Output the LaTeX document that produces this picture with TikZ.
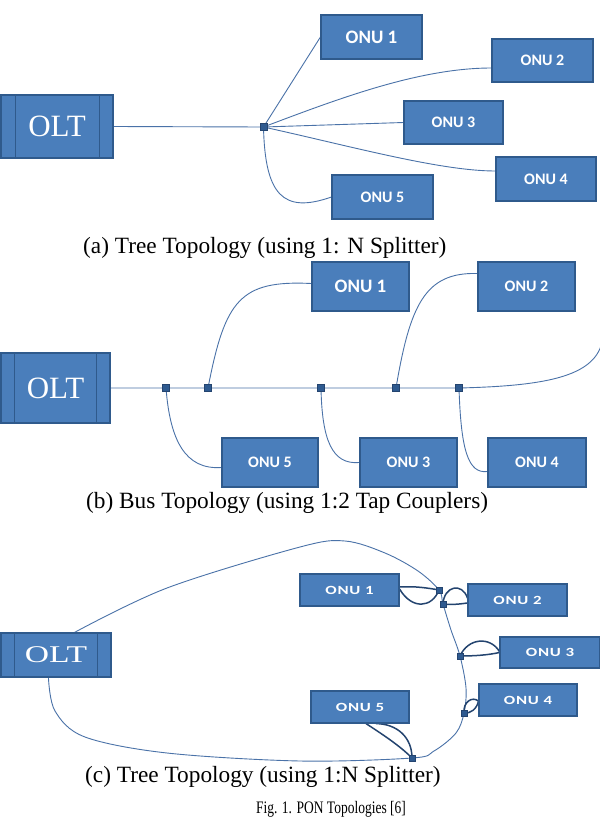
\documentclass[tikz,border=0pt]{standalone}
\usepackage{fontspec}
\setmainfont{Liberation Serif}
\newfontfamily\onufont{Carlito}
\newfontfamily\ringfont[FakeStretch=1.35,LetterSpace=6]{Carlito}
\newfontfamily\wideserif[FakeStretch=1.4]{Liberation Serif}
\usetikzlibrary{calc,backgrounds}
\definecolor{boxfill}{HTML}{4A7EBB}
\definecolor{boxline}{HTML}{2F5A8C}
\definecolor{wire}{HTML}{4A72A8}
\definecolor{darkwire}{HTML}{24446F}
\definecolor{splfill}{HTML}{2E5A90}
\begin{document}
\begin{tikzpicture}[x=1pt,y=-1pt,
  onu/.style={draw=boxline, line width=1.1pt, fill=boxfill, text=white, inner sep=0pt,
    font=\onufont\bfseries\fontsize{16}{16}\selectfont},
  bigonu/.style={onu, font=\onufont\bfseries\fontsize{19}{19}\selectfont},
  ronu/.style={onu, font=\ringfont\bfseries\fontsize{12.5}{12.5}\selectfont},
  olt/.style={draw=boxline, line width=1.1pt, fill=boxfill, text=white, inner sep=0pt,
    font=\fontsize{31}{31}\selectfont},
  rolt/.style={olt, font=\wideserif\fontsize{24}{24}\selectfont},
  oltbar/.style={draw=boxline, line width=1.1pt},
  spl/.style={draw=darkwire, fill=splfill, line width=0.6pt, minimum size=7pt, inner sep=0pt},
  rspl/.style={spl, minimum size=6pt},
  wire/.style={draw=wire, line width=0.9pt},
  lens/.style={draw=darkwire, line width=1.5pt},
  capt/.style={anchor=base west, inner sep=0pt, font=\fontsize{23.3}{24}\selectfont}
]
\useasboundingbox (0,0) rectangle (600,817);

% ---------------- (a) tree ----------------
\node[olt, minimum width=112pt, minimum height=63pt] (oa) at (57,126.5) {OLT};
\draw[oltbar] ($(oa.north west)+(15,0)$) -- ($(oa.south west)+(15,0)$);
\draw[oltbar] ($(oa.north east)+(-14,0)$) -- ($(oa.south east)+(-14,0)$);
\node[spl] (sa) at (263.5,127) {};
\node[bigonu, minimum width=101pt, minimum height=44pt] (t1) at (371.5,37) {ONU 1};
\node[onu, minimum width=101pt, minimum height=43pt] (t2) at (542.5,60.5) {ONU 2};
\node[onu, minimum width=99pt, minimum height=43pt] (t3) at (453.5,122.5) {ONU 3};
\node[onu, minimum width=100pt, minimum height=44pt] (t4) at (546,179) {ONU 4};
\node[onu, minimum width=101pt, minimum height=44pt] (t5) at (382.5,197) {ONU 5};
\begin{pgfonlayer}{background}
\fill[white] (0,0) rectangle (600,817);
\draw[wire] (oa.east) -- (sa.center);
\draw[wire] (sa.center) -- (t1.west);
\draw[wire] (sa.center) .. controls (340,98) and (420,68) .. ($(t2.west)+(0,7.5)$);
\draw[wire] (sa.center) -- (t3.west);
\draw[wire] (sa.center) .. controls (350,146) and (440,171) .. ($(t4.west)+(0,-8)$);
\draw[wire] (sa.center) .. controls (265,195) and (283,214) .. (t5.west);
\end{pgfonlayer}
\node[capt] (capa) at (83,253) {(a) Tree Topology (using 1: N Splitter)};

% ---------------- (b) bus ----------------
\node[olt, minimum width=109pt, minimum height=70pt] (ob) at (55.5,388) {OLT};
\draw[oltbar] ($(ob.north west)+(14,0)$) -- ($(ob.south west)+(14,0)$);
\draw[oltbar] ($(ob.north east)+(-14,0)$) -- ($(ob.south east)+(-14,0)$);
\node[spl] (p1) at (166,388) {};
\node[spl] (p2) at (208,388) {};
\node[spl] (p3) at (321,388) {};
\node[spl] (p4) at (396,388) {};
\node[spl] (p5) at (459,388) {};
\coordinate (bend) at (601,346);
\node[bigonu, minimum width=97pt, minimum height=49pt] (b1) at (360.5,286.5) {ONU 1};
\node[onu, minimum width=97pt, minimum height=49pt] (b2) at (526.5,286.5) {ONU 2};
\node[onu, minimum width=97pt, minimum height=49pt] (b3) at (408.5,462.5) {ONU 3};
\node[onu, minimum width=98pt, minimum height=49pt] (b4) at (537,462.5) {ONU 4};
\node[onu, minimum width=96pt, minimum height=49pt] (b5) at (270,462.5) {ONU 5};
\begin{pgfonlayer}{background}
\draw[wire] (ob.east) -- (p1.center) -- (p2.center) -- (p3.center) -- (p4.center) -- (p5.center)
  .. controls (540,386) and (590,378) .. (bend);
\draw[wire] (p2.center) .. controls (225,300) and (240,280) .. ($(b1.west)+(0,-3)$);
\draw[wire] (p4.center) .. controls (410,305) and (425,272) .. ($(b2.west)+(0,-13)$);
\draw[wire] (p1.center) .. controls (170,440) and (185,470) .. ($(b5.west)+(0,5)$);
\draw[wire] (p3.center) .. controls (322,440) and (332,465) .. (b3.west);
\draw[wire] (p5.center) .. controls (461,450) and (468,474) .. ($(b4.west)+(0,9)$);
\end{pgfonlayer}
\node[capt] (capb) at (86,508) {(b) Bus Topology (using 1:2 Tap Couplers)};

% ---------------- (c) ring-like tree ----------------
\node[rolt, minimum width=110pt, minimum height=44pt] (oc) at (56,655) {OLT};
\draw[oltbar] ($(oc.north west)+(14,0)$) -- ($(oc.south west)+(14,0)$);
\draw[oltbar] ($(oc.north east)+(-14,0)$) -- ($(oc.south east)+(-14,0)$);
\coordinate (ca) at ($(oc.north west)+(74,0)$);
\coordinate (cb) at ($(oc.south west)+(48,0)$);
\node[rspl] (s1) at (439,590) {};
\node[rspl] (s2) at (443,604) {};
\node[rspl] (s3) at (460,656) {};
\node[rspl] (s4) at (464,713) {};
\node[rspl] (s5) at (412,758) {};
\node[ronu, minimum width=99pt, minimum height=32pt] (r1) at (349.5,590) {ONU 1};
\node[ronu, minimum width=99pt, minimum height=32pt] (r2) at (517.5,600) {ONU 2};
\node[ronu, minimum width=100pt, minimum height=31pt] (r3) at (550,652.5) {ONU 3};
\node[ronu, minimum width=98pt, minimum height=32pt] (r4) at (528,700) {ONU 4};
\node[ronu, minimum width=98pt, minimum height=32pt] (r5) at (360,707) {ONU 5};
\begin{pgfonlayer}{background}
\draw[wire] plot[smooth, tension=0.55] coordinates {(ca) (167,588) (300,547) (345,541)
  (385,553) (418,571) (s1.center) (s2.center) (451,630) (s3.center) (466,688) (s4.center)
  (456,733) (434,751) (s5.center) (300,761) (167,753) (85,737) (55,711) (cb)};
\draw[lens] ($(r1.east)+(0,-3)$) .. controls (415,586) and (428,588) .. (s1.center);
\draw[lens] ($(r1.east)+(0,-1)$) .. controls (412,610) and (432,608) .. (s1.center);
\draw[lens] (s2.center) .. controls (444,586) and (462,582) .. ($(r2.west)+(0,-2)$);
\draw[lens] (s2.center) .. controls (452,605) and (460,604) .. ($(r2.west)+(0,3)$);
\draw[lens] (s3.center) .. controls (468,638) and (490,636) .. ($(r3.west)+(0,-1)$);
\draw[lens] (s3.center) .. controls (475,656) and (488,655) .. (r3.west);
\draw[lens] (s4.center) .. controls (463,702) and (472,696) .. ($(r4.west)+(0,1)$);
\draw[lens] (s4.center) .. controls (470,714) and (477,709) .. ($(r4.west)+(0,1)$);
\draw[lens] ($(r5.south)+(6,0)$) .. controls (385,736) and (400,746) .. (s5.center);
\draw[lens] ($(r5.south)+(16,0)$) .. controls (398,724) and (412,738) .. (s5.center);
\end{pgfonlayer}
\node[capt] (capc) at (85,782) {(c) Tree Topology (using 1:N Splitter)};
\node[anchor=base, inner sep=0pt, font=\fontsize{13.5}{14}\selectfont] (fig) at (331,813)
  {\scalebox{1}[1.3]{Fig. 1. PON Topologies [6]}};
\end{tikzpicture}
\end{document}
